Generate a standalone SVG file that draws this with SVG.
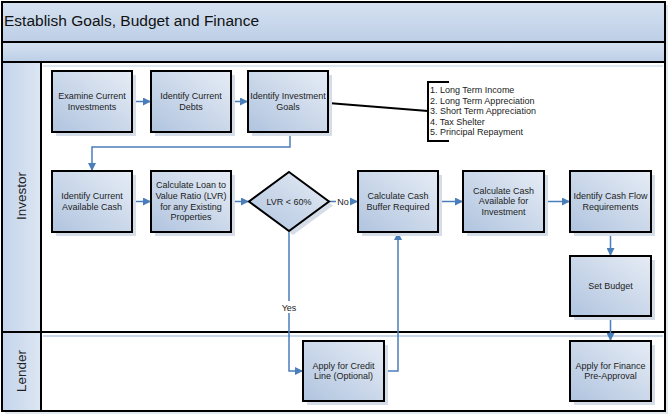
<svg xmlns="http://www.w3.org/2000/svg" width="672" height="418" viewBox="0 0 672 418">
<defs>
<linearGradient id="boxg" x1="1" y1="0" x2="0" y2="1">
<stop offset="0" stop-color="#e6ecf5"/>
<stop offset="1" stop-color="#b0c4df"/>
</linearGradient>
<linearGradient id="bandg" x1="0" y1="0" x2="0" y2="1">
<stop offset="0" stop-color="#d6e2f1"/>
<stop offset="1" stop-color="#bccee6"/>
</linearGradient>
<linearGradient id="laneg" x1="0" y1="0" x2="1" y2="0">
<stop offset="0" stop-color="#c4d4ea"/>
<stop offset="1" stop-color="#dce6f3"/>
</linearGradient>
<marker id="arr" viewBox="0 0 10 10" refX="10" refY="5" markerWidth="9" markerHeight="8" markerUnits="userSpaceOnUse" orient="auto">
<path d="M0,0 L10,5 L0,10 z" fill="#4a7ebb"/>
</marker>
</defs>
<style>
.box{fill:url(#boxg);stroke:#000;stroke-width:2}
.shd{fill:#d5dde8}
.t{font-family:"Liberation Sans",Arial,sans-serif;font-size:9px;fill:#222;text-anchor:middle}
.lt{font-family:"Liberation Sans",Arial,sans-serif;font-size:9px;fill:#222}
.ln{font-family:"Liberation Sans",Arial,sans-serif;font-size:13.5px;fill:#222;text-anchor:middle}
.con{fill:none;stroke:#4a7ebb;stroke-width:1.5}
.band{fill:url(#bandg);stroke:#000;stroke-width:2}
.head{fill:url(#laneg);stroke:#000;stroke-width:2}
.lane{fill:none;stroke:#000;stroke-width:2}
</style>
<rect x="0" y="0" width="672" height="418" fill="#fff"/>
<g id="pool">
<rect x="5" y="5" width="663" height="409" fill="#e3e9f1"/>
<rect x="2" y="2" width="663" height="409" fill="#fff"/>
<rect x="2" y="2" width="663" height="40" class="band"/>
<rect x="2" y="42" width="663" height="20" class="band"/>
<text x="4" y="26" font-family="Liberation Sans,Arial,sans-serif" font-size="15.5" fill="#111">Establish Goals, Budget and Finance</text>
</g>
<g id="lane-investor">
<rect x="2" y="62" width="39" height="270" class="head"/>
<rect x="41" y="62" width="624" height="270" class="lane"/>
<line x1="43" y1="66" x2="663" y2="66" stroke="#dfe7f1" stroke-width="2"/>
<text class="ln" transform="translate(26,196) rotate(-90)">Investor</text>
</g>
<g id="lane-lender">
<rect x="2" y="332" width="39" height="79" class="head"/>
<rect x="41" y="332" width="624" height="79" class="lane"/>
<line x1="43" y1="336" x2="663" y2="336" stroke="#c9d7e9" stroke-width="2"/>
<text class="ln" transform="translate(26,371) rotate(-90)">Lender</text>
</g>
<g id="connectors">
<path class="con" d="M132 101.5 H151" marker-end="url(#arr)"/>
<path class="con" d="M231 101.5 H248" marker-end="url(#arr)"/>
<path class="con" d="M290 132 V147 H92 V171" marker-end="url(#arr)"/>
<path class="con" d="M132 201.5 H151" marker-end="url(#arr)"/>
<path class="con" d="M231 201.5 H249" marker-end="url(#arr)"/>
<path class="con" d="M329 201.5 H358" marker-end="url(#arr)"/>
<path class="con" d="M438 201.5 H463" marker-end="url(#arr)"/>
<path class="con" d="M544 201.5 H570" marker-end="url(#arr)"/>
<path class="con" d="M610.5 232 V256" marker-end="url(#arr)"/>
<path class="con" d="M610.5 316 V341" marker-end="url(#arr)"/>
<path class="con" d="M289 231 V371 H303" marker-end="url(#arr)"/>
<path class="con" d="M384 371 H398 V232" marker-end="url(#arr)"/>
<path d="M328 103 L428 111" stroke="#000" stroke-width="2" fill="none"/>
<rect x="336" y="196" width="14" height="11" fill="#fff"/>
<text class="t" x="343" y="204.5">No</text>
<rect x="280" y="301" width="18" height="12" fill="#fff"/>
<text class="t" x="289" y="310.5">Yes</text>
</g>
<g id="n1"><rect class="shd" x="56" y="75" width="80" height="61"/><rect class="box" x="52" y="71" width="80" height="61"/>
<text class="t" x="92" y="99">Examine Current</text><text class="t" x="92" y="109.5">Investments</text></g>
<g id="n2"><rect class="shd" x="155" y="75" width="80" height="61"/><rect class="box" x="151" y="71" width="80" height="61"/>
<text class="t" x="191" y="99">Identify Current</text><text class="t" x="191" y="109.5">Debts</text></g>
<g id="n3"><rect class="shd" x="252" y="75" width="80" height="61"/><rect class="box" x="248" y="71" width="80" height="61"/>
<text class="t" x="288" y="99">Identify Investment</text><text class="t" x="288" y="109.5">Goals</text></g>
<g id="goals-list">
<path d="M449 82 H428 V141 H449" stroke="#000" stroke-width="2" fill="none"/>
<text class="lt" x="430" y="93">1. Long Term Income</text>
<text class="lt" x="430" y="103.6">2. Long Term Appreciation</text>
<text class="lt" x="430" y="114.2">3. Short Term Appreciation</text>
<text class="lt" x="430" y="124.8">4. Tax Shelter</text>
<text class="lt" x="430" y="135.4">5. Principal Repayment</text>
</g>
<g id="n4"><rect class="shd" x="56" y="175" width="80" height="61"/><rect class="box" x="52" y="171" width="80" height="61"/>
<text class="t" x="92" y="199">Identify Current</text><text class="t" x="92" y="209.5">Available Cash</text></g>
<g id="n5"><rect class="shd" x="155" y="175" width="80" height="61"/><rect class="box" x="151" y="171" width="80" height="61"/>
<text class="t" x="191" y="188.2">Calculate Loan to</text><text class="t" x="191" y="198.9">Value Ratio (LVR)</text><text class="t" x="191" y="209.5">for any Existing</text><text class="t" x="191" y="220.2">Properties</text></g>
<g id="n6"><path d="M293 176 L333 205.5 L293 235 L253 205.5 z" fill="#d5dde8"/><path d="M289 172 L329 201.5 L289 231 L249 201.5 z" fill="url(#boxg)" stroke="#000" stroke-width="2"/>
<text class="t" x="289" y="204.5">LVR &lt; 60%</text></g>
<g id="n7"><rect class="shd" x="362" y="175" width="80" height="61"/><rect class="box" x="358" y="171" width="80" height="61"/>
<text class="t" x="398" y="199">Calculate Cash</text><text class="t" x="398" y="209.5">Buffer Required</text></g>
<g id="n8"><rect class="shd" x="467" y="175" width="81" height="61"/><rect class="box" x="463" y="171" width="81" height="61"/>
<text class="t" x="503.5" y="193.8">Calculate Cash</text><text class="t" x="503.5" y="204.4">Available for</text><text class="t" x="503.5" y="215">Investment</text></g>
<g id="n9"><rect class="shd" x="574" y="175" width="81" height="61"/><rect class="box" x="570" y="171" width="81" height="61"/>
<text class="t" x="610.5" y="199">Identify Cash Flow</text><text class="t" x="610.5" y="209.5">Requirements</text></g>
<g id="n10"><rect class="shd" x="574" y="260" width="81" height="60"/><rect class="box" x="570" y="256" width="81" height="60"/>
<text class="t" x="610.5" y="289">Set Budget</text></g>
<g id="n11"><rect class="shd" x="307" y="345" width="81" height="60"/><rect class="box" x="303" y="341" width="81" height="60"/>
<text class="t" x="343.5" y="368.5">Apply for Credit</text><text class="t" x="343.5" y="379">Line (Optional)</text></g>
<g id="n12"><rect class="shd" x="574" y="345" width="81" height="60"/><rect class="box" x="570" y="341" width="81" height="60"/>
<text class="t" x="610.5" y="368.5">Apply for Finance</text><text class="t" x="610.5" y="379">Pre-Approval</text></g>
</svg>
